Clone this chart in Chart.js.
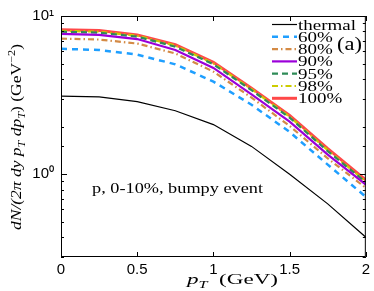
<!DOCTYPE html>
<html>
<head>
<meta charset="utf-8">
<script src="https://cdn.jsdelivr.net/npm/chart.js@4.4.1/dist/chart.umd.min.js"></script>
<style>
  html, body { margin: 0; padding: 0; background: #fff; }
  #wrap { width: 374px; height: 291px; }
</style>
</head>
<body>
<div id="wrap"><canvas id="spectra"></canvas></div>
<script>
// pT grid (GeV) and spectra
const pT = [0, 0.25, 0.5, 0.75, 1.0, 1.25, 1.5, 1.75, 2.0];
const thermal = [3.12, 3.08, 2.88, 2.52, 2.06, 1.50, 1.00, 0.65, 0.40];
const p60 = [6.2, 6.1, 5.7, 4.95, 3.85, 2.75, 1.85, 1.15, 0.72];
const p80 = [7.2, 7.1, 6.7, 5.8, 4.45, 3.05, 2.02, 1.26, 0.82];
const p90 = [7.7, 7.6, 7.15, 6.1, 4.7, 3.2, 2.15, 1.33, 0.86];
const p95 = [7.95, 7.85, 7.4, 6.4, 4.95, 3.4, 2.28, 1.4, 0.89];
const p98 = [8.05, 7.95, 7.5, 6.5, 5.02, 3.45, 2.31, 1.42, 0.90];
const p100 = [8.2, 8.1, 7.6, 6.6, 5.1, 3.5, 2.35, 1.45, 0.92];

const xTicks = [0, 0.5, 1, 1.5, 2];
const yMajor = [1, 10];
const seriesNames = ['thermal', '60%', '80%', '90%', '95%', '98%', '100%'];

const toPts = ys => pT.map((x, i) => ({ x: x, y: ys[i] }));

const serif = '"Liberation Serif", "DejaVu Serif", serif';
const sans = '"Liberation Sans", Arial, sans-serif';

const datasets = [
  { label: seriesNames[0], data: toPts(thermal), borderColor: '#000000', borderWidth: 1.2, borderDash: [] },
  { label: seriesNames[1], data: toPts(p60), borderColor: '#1f9fff', borderWidth: 2.5, borderDash: [6, 5] },
  { label: seriesNames[2], data: toPts(p80), borderColor: '#d48a45', borderWidth: 2.2, borderDash: [6, 3, 1.5, 3] },
  { label: seriesNames[3], data: toPts(p90), borderColor: '#9b00d9', borderWidth: 2.2, borderDash: [] },
  { label: seriesNames[4], data: toPts(p95), borderColor: '#2e8b57', borderWidth: 2.2, borderDash: [6, 4] },
  { label: seriesNames[5], data: toPts(p98), borderColor: '#cccc00', borderWidth: 2.2, borderDash: [6, 3, 1.5, 3] },
  { label: seriesNames[6], data: toPts(p100), borderColor: 'rgba(255,40,40,0.85)', borderWidth: 3, borderDash: [] }
].map(d => Object.assign(d, { pointRadius: 0, fill: false, tension: 0 }));

// runs: [text, 'n'|'sub'|'sup', italic]
function runsWidth(ctx, runs, size) {
  let w = 0;
  runs.forEach(([txt, kind, ital]) => {
    const fs = kind === 'n' ? size : size * 0.7;
    ctx.font = (ital ? 'italic ' : '') + fs + 'px ' + serif;
    w += ctx.measureText(txt).width;
  });
  return w;
}

function drawRuns(ctx, runs, size) {
  let cx = 0;
  runs.forEach(([txt, kind, ital]) => {
    const fs = kind === 'n' ? size : size * 0.7;
    const dy = kind === 'sub' ? size * 0.3 : kind === 'sup' ? -size * 0.42 : 0;
    ctx.font = (ital ? 'italic ' : '') + fs + 'px ' + serif;
    ctx.fillText(txt, cx, dy);
    cx += ctx.measureText(txt).width;
  });
}

// draw runs stretched horizontally to a target width (the original uses a wide TeX font)
function fitRuns(ctx, runs, x, y, size, width, angle) {
  const sx = width / runsWidth(ctx, runs, size);
  ctx.save();
  ctx.translate(x, y);
  if (angle) ctx.rotate(angle);
  ctx.scale(sx, 1);
  drawRuns(ctx, runs, size);
  ctx.restore();
}

const decorations = {
  id: 'decorations',
  afterDatasetsDraw(chart) {
    const { ctx, chartArea: a, scales } = chart;
    const xs = scales.x, ys = scales.y;
    ctx.save();
    // frame
    ctx.strokeStyle = '#000';
    ctx.lineWidth = 1;
    ctx.setLineDash([]);
    ctx.strokeRect(a.left + 0.5, a.top + 0.5, a.right - a.left - 1, a.bottom - a.top - 1);

    // inner ticks on y (log minor + major)
    ys.ticks.forEach(t => {
      const py = Math.round(ys.getPixelForValue(t.value)) + 0.5;
      const len = yMajor.includes(t.value) ? 6 : 3;
      ctx.beginPath();
      ctx.moveTo(a.left, py); ctx.lineTo(a.left + len, py);
      ctx.moveTo(a.right, py); ctx.lineTo(a.right - len, py);
      ctx.stroke();
    });
    // inner ticks on x
    xTicks.forEach(v => {
      const px = Math.round(xs.getPixelForValue(v)) + 0.5;
      ctx.beginPath();
      ctx.moveTo(px, a.bottom); ctx.lineTo(px, a.bottom - 5);
      ctx.moveTo(px, a.top); ctx.lineTo(px, a.top + 5);
      ctx.stroke();
    });

    // legend, top right inside the frame
    ctx.fillStyle = '#000';
    ctx.textBaseline = 'alphabetic';
    ctx.font = '15px ' + serif;
    const legScale = 58 / ctx.measureText(seriesNames[0]).width;
    chart.data.datasets.forEach((d, i) => {
      const yy = 24.5 + i * 12.3;
      ctx.strokeStyle = d.borderColor;
      ctx.lineWidth = d.borderWidth;
      ctx.setLineDash(d.borderDash || []);
      ctx.beginPath();
      ctx.moveTo(272, yy); ctx.lineTo(297, yy);
      ctx.stroke();
      ctx.setLineDash([]);
      const w = legScale * ctx.measureText(d.label).width;
      fitRuns(ctx, [[d.label, 'n', false]], 298, yy + 5, 15, w);
    });
    fitRuns(ctx, [['(a)', 'n', false]], 337, 50, 18, 25);

    // annotation
    fitRuns(ctx, [['p, 0-10%, bumpy event', 'n', false]], 92, 193, 14, 171);

    // x title
    fitRuns(ctx, [['p', 'n', true], ['T', 'sub', true], ['  (GeV)', 'n', false]], 187, 284, 14, 91);

    // y title, rotated
    fitRuns(ctx, [
      ['dN/(2π dy p', 'n', true], ['T', 'sub', true], [' dp', 'n', true], ['T', 'sub', true],
      [')', 'n', false], [' (GeV', 'n', false], ['−2', 'sup', false], [')', 'n', false]
    ], 21, 230, 14, 186, -Math.PI / 2);
    ctx.restore();
  }
};

new Chart(document.getElementById('spectra'), {
  type: 'line',
  data: { datasets: datasets },
  plugins: [decorations],
  options: {
    responsive: true,
    maintainAspectRatio: false,
    animation: false,
    layout: { padding: { top: 14, right: 8, left: 0, bottom: 0 } },
    plugins: { legend: { display: false }, tooltip: { enabled: false } },
    scales: {
      x: {
        type: 'linear', min: 0, max: 2,
        afterBuildTicks: s => { s.ticks = xTicks.map(v => ({ value: v })); },
        afterFit: s => { s.height = 34; },
        grid: { display: false, drawTicks: false },
        border: { display: false },
        ticks: { font: { family: sans, size: 15 }, color: '#000', padding: 4, maxRotation: 0,
                 callback: v => String(v) }
      },
      y: {
        type: 'logarithmic', min: 0.3, max: 10,
        afterFit: s => { s.width = 61; },
        grid: { display: false, drawTicks: false },
        border: { display: false },
        ticks: { font: { family: sans, size: 15 }, color: '#000', padding: 7, autoSkip: false,
                 callback: v => v === 1 ? '10⁰' : v === 10 ? '10¹' : '' }
      }
    }
  }
});
</script>
</body>
</html>
